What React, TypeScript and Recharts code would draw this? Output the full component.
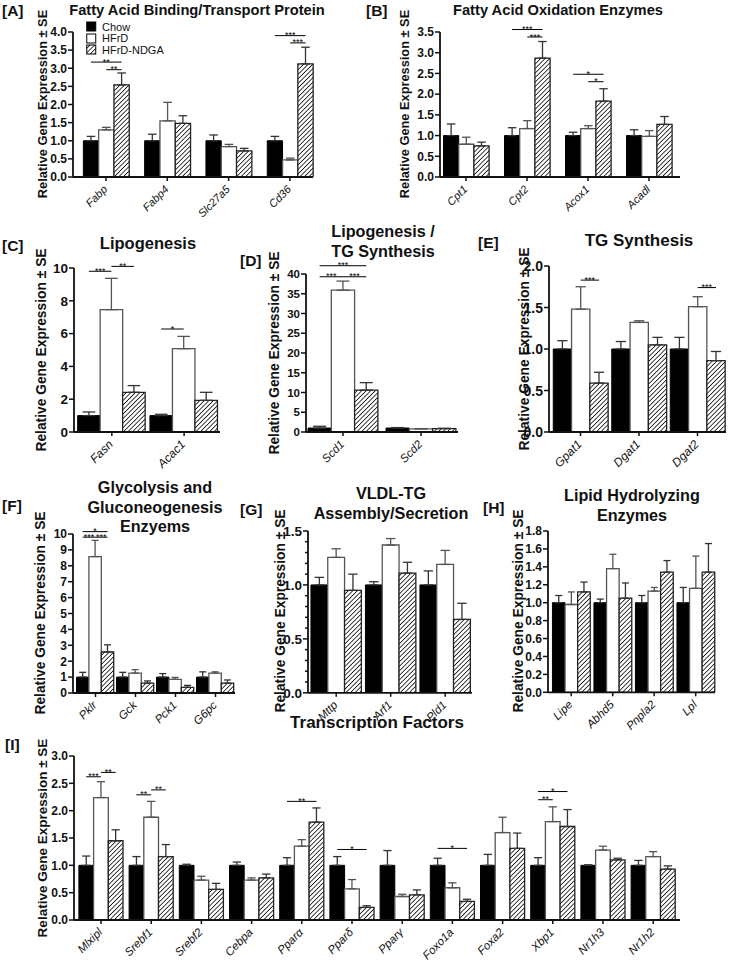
import React from "react";
import { Bar, BarChart, ErrorBar, LabelList, Legend, XAxis, YAxis } from "recharts";

const FONT = "'Liberation Sans', Arial, Helvetica, sans-serif";

// [A] Fatty acid binding / transport protein
const genesA = ["Fabp", "Fabp4", "Slc27a5", "Cd36"];
const chowA = [1, 1, 1, 1];
const chowErrA = [0.12, 0.18, 0.16, 0.12];
const hfrdA = [1.3, 1.55, 0.84, 0.47];
const hfrdErrA = [0.07, 0.51, 0.06, 0.05];
const ndgaA = [2.54, 1.48, 0.72, 3.12];
const ndgaErrA = [0.33, 0.21, 0.07, 0.46];
const ticksA = [0, 0.5, 1, 1.5, 2, 2.5, 3, 3.5, 4];
const sigA = [
  { gene: "Fabp", from: 0, to: 2, y: 3.17, mark: "**" },
  { gene: "Fabp", from: 1, to: 2, y: 2.96, mark: "**" },
  { gene: "Cd36", from: 0, to: 2, y: 3.9, mark: "***" },
  { gene: "Cd36", from: 1, to: 2, y: 3.7, mark: "***" },
];

// [B] Fatty acid oxidation enzymes
const genesB = ["Cpt1", "Cpt2", "Acox1", "Acadl"];
const chowB = [1, 1, 1, 1];
const chowErrB = [0.28, 0.19, 0.08, 0.14];
const hfrdB = [0.79, 1.17, 1.17, 0.98];
const hfrdErrB = [0.17, 0.19, 0.07, 0.14];
const ndgaB = [0.75, 2.87, 1.83, 1.27];
const ndgaErrB = [0.09, 0.4, 0.3, 0.19];
const ticksB = [0, 0.5, 1, 1.5, 2, 2.5, 3, 3.5];
const sigB = [
  { gene: "Cpt2", from: 0, to: 2, y: 3.56, mark: "***" },
  { gene: "Cpt2", from: 1, to: 2, y: 3.38, mark: "***" },
  { gene: "Acox1", from: 0, to: 2, y: 2.48, mark: "*" },
  { gene: "Acox1", from: 1, to: 2, y: 2.3, mark: "*" },
];

// [C] Lipogenesis
const genesC = ["Fasn", "Acac1"];
const chowC = [1, 1];
const chowErrC = [0.22, 0.08];
const hfrdC = [7.46, 5.08];
const hfrdErrC = [1.91, 0.75];
const ndgaC = [2.42, 1.93];
const ndgaErrC = [0.41, 0.49];
const ticksC = [0, 2, 4, 6, 8, 10];
const sigC = [
  { gene: "Fasn", from: 0, to: 1, y: 9.8, mark: "***" },
  { gene: "Fasn", from: 1, to: 2, y: 10.1, mark: "**" },
  { gene: "Acac1", from: 0, to: 1, y: 6.28, mark: "*" },
];

// [D] Lipogenesis / TG synthesis
const genesD = ["Scd1", "Scd2"];
const chowD = [1, 1];
const chowErrD = [0.45, 0.12];
const hfrdD = [35.9, 0.8];
const hfrdErrD = [2.3, 0.06];
const ndgaD = [10.6, 0.85];
const ndgaErrD = [1.9, 0.1];
const ticksD = [0, 5, 10, 15, 20, 25, 30, 35, 40];
const sigD = [
  { gene: "Scd1", from: 0, to: 2, y: 42.1, mark: "***" },
  { gene: "Scd1", from: 0, to: 1, y: 39.3, mark: "***" },
  { gene: "Scd1", from: 1, to: 2, y: 39.3, mark: "***" },
];

// [E] TG synthesis
const genesE = ["Gpat1", "Dgat1", "Dgat2"];
const chowE = [1, 1, 1];
const chowErrE = [0.1, 0.09, 0.14];
const hfrdE = [1.48, 1.32, 1.51];
const hfrdErrE = [0.27, 0.02, 0.12];
const ndgaE = [0.59, 1.05, 0.86];
const ndgaErrE = [0.13, 0.09, 0.11];
const ticksE = [0, 0.5, 1, 1.5, 2];
const sigE = [
  { gene: "Gpat1", from: 1, to: 2, y: 1.83, mark: "***" },
  { gene: "Dgat2", from: 1, to: 2, y: 1.74, mark: "***" },
];

// [F] Glycolysis and gluconeogenesis enzymes
const genesF = ["Pklr", "Gck", "Pck1", "G6pc"];
const chowF = [1, 1, 1, 1];
const chowErrF = [0.3, 0.3, 0.22, 0.33];
const hfrdF = [8.58, 1.25, 0.86, 1.25];
const hfrdErrF = [1.02, 0.22, 0.12, 0.08];
const ndgaF = [2.58, 0.62, 0.36, 0.62];
const ndgaErrF = [0.45, 0.14, 0.12, 0.2];
const ticksF = [0, 1, 2, 3, 4, 5, 6, 7, 8, 9, 10];
const sigF = [
  { gene: "Pklr", from: 0, to: 2, y: 10.15, mark: "*" },
  { gene: "Pklr", from: 0, to: 1, y: 9.8, mark: "***" },
  { gene: "Pklr", from: 1, to: 2, y: 9.8, mark: "***" },
];

// [G] VLDL-TG assembly / secretion
const genesG = ["Mttp", "Arf1", "Pld1"];
const chowG = [1, 1, 1];
const chowErrG = [0.07, 0.03, 0.13];
const hfrdG = [1.255, 1.37, 1.19];
const hfrdErrG = [0.08, 0.06, 0.13];
const ndgaG = [0.95, 1.11, 0.68];
const ndgaErrG = [0.15, 0.1, 0.15];
const ticksG = [0, 0.1, 0.2, 0.3, 0.4, 0.5, 0.6, 0.7, 0.8, 0.9, 1, 1.1, 1.2, 1.3, 1.4, 1.5];
const labelsG = [0, 0.5, 1, 1.5];

// [H] Lipid hydrolyzing enzymes
const genesH = ["Lipe", "Abhd5", "Pnpla2", "Lpl"];
const chowH = [1, 1, 1, 1];
const chowErrH = [0.08, 0.04, 0.08, 0.17];
const hfrdH = [0.98, 1.38, 1.13, 1.16];
const hfrdErrH = [0.14, 0.16, 0.04, 0.36];
const ndgaH = [1.12, 1.05, 1.34, 1.34];
const ndgaErrH = [0.11, 0.17, 0.13, 0.32];
const ticksH = [0, 0.2, 0.4, 0.6, 0.8, 1, 1.2, 1.4, 1.6, 1.8];

// [I] Transcription factors
const genesI = ["Mlxipl", "Srebf1", "Srebf2", "Cebpa", "Pparα", "Pparδ", "Pparγ", "Foxo1a", "Foxa2", "Xbp1", "Nr1h3", "Nr1h2"];
const chowI = [1, 1, 1, 1, 1, 1, 1, 1, 1, 1, 1, 1];
const chowErrI = [0.17, 0.16, 0.02, 0.06, 0.14, 0.16, 0.27, 0.13, 0.2, 0.14, 0.01, 0.09];
const hfrdI = [2.24, 1.88, 0.73, 0.73, 1.35, 0.57, 0.43, 0.59, 1.6, 1.8, 1.28, 1.16];
const hfrdErrI = [0.29, 0.29, 0.07, 0.04, 0.12, 0.17, 0.04, 0.09, 0.28, 0.27, 0.07, 0.09];
const ndgaI = [1.45, 1.16, 0.56, 0.77, 1.79, 0.23, 0.46, 0.34, 1.31, 1.71, 1.1, 0.93];
const ndgaErrI = [0.2, 0.22, 0.11, 0.07, 0.26, 0.03, 0.09, 0.04, 0.28, 0.31, 0.03, 0.06];
const ticksI = [0, 0.5, 1, 1.5, 2, 2.5, 3];
const sigI = [
  { gene: "Mlxipl", from: 0, to: 1, y: 2.62, mark: "***" },
  { gene: "Mlxipl", from: 1, to: 2, y: 2.7, mark: "**" },
  { gene: "Srebf1", from: 0, to: 1, y: 2.29, mark: "**" },
  { gene: "Srebf1", from: 1, to: 2, y: 2.38, mark: "**" },
  { gene: "Pparα", from: 0, to: 2, y: 2.17, mark: "**" },
  { gene: "Pparδ", from: 0, to: 2, y: 1.29, mark: "*" },
  { gene: "Foxo1a", from: 0, to: 2, y: 1.31, mark: "*" },
  { gene: "Xbp1", from: 0, to: 1, y: 2.2, mark: "**" },
  { gene: "Xbp1", from: 0, to: 2, y: 2.35, mark: "*" },
];

type Sig = { gene: string; from: number; to: number; y: number; mark: string };
type Geo = { axisX: number; axisEnd: number; yTop: number; yZero: number; firstCenter: number; spacing: number; barW: number };

function XTick({ x, y, payload, font }: any) {
  const ax = x + 2;
  const ay = y + 7;
  return (
    <text x={ax} y={ay} transform={`rotate(-45 ${ax} ${ay})`} textAnchor="end" fontStyle="italic" fontSize={font} fontFamily={FONT} fill="#111">
      {payload.value}
    </text>
  );
}

function YTick({ x, y, payload, labels, digits, font }: any) {
  const v = Number(payload.value);
  const major = labels ? labels.some((l: number) => Math.abs(l - v) < 1e-6) : true;
  return (
    <g>
      <line x1={x + (major ? 2 : 4)} x2={x + 7} y1={y} y2={y} stroke="#111" strokeWidth={1.5} />
      {major && (
        <text x={x + 1} y={y} dy="0.36em" textAnchor="end" fontWeight="bold" fontSize={font} fontFamily={FONT} fill="#111">
          {v.toFixed(digits)}
        </text>
      )}
    </g>
  );
}

function sigContent(sig: Sig[], genes: string[]) {
  return (props: any) => {
    const vb = props.viewBox ?? props;
    const x = Number(vb.x ?? props.x);
    const y = Number(vb.y ?? props.y);
    const w = Number(vb.width ?? props.width);
    const h = Number(vb.height ?? props.height);
    const v = Number(props.value);
    const gene = props.index !== undefined ? genes[props.index] : props.payload?.gene;
    const marks = sig.filter((s) => s.gene === gene);
    if (!marks.length || !v || !h) return null;
    const base = y + h;
    const k = h / v;
    return (
      <g>
        {marks.map((s, i) => {
          const yy = base - s.y * k;
          const x1 = x + w * (s.from + 0.5);
          const x2 = x + w * (s.to + 0.5);
          return (
            <g key={i}>
              <line x1={x1} x2={x2} y1={yy} y2={yy} stroke="#000" strokeWidth={1} />
              <text x={(x1 + x2) / 2} y={yy + 2.6} textAnchor="middle" fontSize={9} fontFamily={FONT} fill="#000">
                {s.mark}
              </text>
            </g>
          );
        })}
      </g>
    );
  };
}

function LegendBox({ payload }: any) {
  return (
    <div style={{ fontFamily: FONT, fontSize: 11, color: "#111" }}>
      {(payload ?? []).map((p: any) => (
        <div key={p.value} style={{ display: "flex", alignItems: "center", height: 11.6 }}>
          <svg width={11} height={11} style={{ marginRight: 5 }}>
            <rect x={0.75} y={1} width={9} height={9} fill={p.color} stroke="#000" strokeWidth={1} />
          </svg>
          <span>{p.value}</span>
        </div>
      ))}
    </div>
  );
}

type PanelProps = {
  id: string;
  genes: string[];
  chow: number[];
  chowErr: number[];
  hfrd: number[];
  hfrdErr: number[];
  ndga: number[];
  ndgaErr: number[];
  ticks: number[];
  labels?: number[];
  digits: number;
  sig: Sig[];
  geo: Geo;
  tickFont: number;
  xFont: number;
  legend?: boolean;
};

function Panel({ id, genes, chow, chowErr, hfrd, hfrdErr, ndga, ndgaErr, ticks, labels, digits, sig, geo, tickFont, xFont, legend }: PanelProps) {
  const rows = genes.map((gene, i) => ({
    gene,
    chow: chow[i],
    hfrd: hfrd[i],
    ndga: ndga[i],
    chowSe: [0, chowErr[i]],
    hfrdSe: [0, hfrdErr[i]],
    ndgaSe: [0, ndgaErr[i]],
  }));
  const top = 24;
  const axisW = 44;
  const xH = 48;
  const left = geo.axisX - axisW;
  const width = geo.axisEnd - left + 10;
  const height = top + geo.yZero - geo.yTop + xH;
  const n = genes.length;
  const rangeStart = geo.firstCenter - geo.spacing / 2;
  const rangeEnd = geo.firstCenter + (n - 0.5) * geo.spacing;
  const pad = { left: rangeStart - geo.axisX, right: geo.axisEnd - rangeEnd };
  const hatch = `hatch-${id}`;
  // ErrorBar width is the half-length of the cap
  const cap = geo.barW * 0.28;
  const axisStyle = { stroke: "#111", strokeWidth: 1.8 };
  return (
    <div style={{ position: "absolute", left, top: geo.yTop - top }}>
      <BarChart width={width} height={height} data={rows} margin={{ top, right: 10, bottom: 0, left: 0 }} barGap={0} barSize={geo.barW}>
        <defs>
          <pattern id={hatch} patternUnits="userSpaceOnUse" width={3.2} height={3.2} patternTransform="rotate(45)">
            <rect width={3.2} height={3.2} fill="#fff" />
            <line x1={0} y1={0} x2={0} y2={3.2} stroke="#000" strokeWidth={1.5} />
          </pattern>
        </defs>
        <XAxis
          dataKey="gene"
          interval={0}
          height={xH}
          padding={pad}
          axisLine={axisStyle}
          tickLine={{ stroke: "#111", strokeWidth: 1.5 }}
          tickSize={4}
          tick={<XTick font={xFont} />}
        />
        <YAxis
          type="number"
          domain={[0, ticks[ticks.length - 1]]}
          ticks={ticks}
          interval={0}
          width={axisW}
          allowDataOverflow
          axisLine={axisStyle}
          tickLine={false}
          tickSize={5}
          tickMargin={2}
          tick={<YTick labels={labels} digits={digits} font={tickFont} />}
        />
        <Bar dataKey="chow" name="Chow" fill="#000" stroke="#000" strokeWidth={1} isAnimationActive={false}>
          <ErrorBar dataKey="chowSe" width={cap} stroke="#333" strokeWidth={1.3} direction="y" />
          <LabelList dataKey="chow" content={sigContent(sig, genes)} />
        </Bar>
        <Bar dataKey="hfrd" name="HFrD" fill="#fff" stroke="#555" strokeWidth={1.3} isAnimationActive={false}>
          <ErrorBar dataKey="hfrdSe" width={cap} stroke="#555" strokeWidth={1.3} direction="y" />
        </Bar>
        <Bar dataKey="ndga" name="HFrD-NDGA" fill={`url(#${hatch})`} stroke="#222" strokeWidth={1.3} isAnimationActive={false}>
          <ErrorBar dataKey="ndgaSe" width={cap} stroke="#333" strokeWidth={1.3} direction="y" />
        </Bar>
        {legend && (
          <Legend
            layout="vertical"
            align="center"
            verticalAlign="middle"
            wrapperStyle={{ left: 86 - left, top: 21 - (geo.yTop - top), width: "auto" }}
            content={<LegendBox />}
          />
        )}
      </BarChart>
    </div>
  );
}

function Letter({ x, y, children }: any) {
  return (
    <div style={{ position: "absolute", left: x, top: y, transform: "translateY(-50%)", fontWeight: "bold", fontSize: 15.5, whiteSpace: "nowrap" }}>
      {children}
    </div>
  );
}

function Title({ x, y, size, lines }: { x: number; y: number; size: number; lines: string[] }) {
  return (
    <div
      style={{
        position: "absolute",
        left: x,
        top: y,
        transform: "translate(-50%, -50%)",
        fontWeight: "bold",
        fontSize: size,
        lineHeight: "19.5px",
        textAlign: "center",
        whiteSpace: "nowrap",
      }}
    >
      {lines.map((l) => (
        <div key={l}>{l}</div>
      ))}
    </div>
  );
}

function YLabel({ x, y, size }: { x: number; y: number; size: number }) {
  return (
    <div
      style={{
        position: "absolute",
        left: x,
        top: y,
        transform: "translate(-50%, -50%) rotate(-90deg)",
        fontWeight: "bold",
        fontSize: size,
        whiteSpace: "nowrap",
      }}
    >
      Relative Gene Expression ± SE
    </div>
  );
}

export default function App() {
  return (
    <div style={{ position: "absolute", left: 0, top: 0, width: 729, height: 960, overflow: "hidden", background: "#fff", fontFamily: FONT, color: "#111" }}>
      <Letter x={2} y={11}>[A]</Letter>
      <Title x={197} y={11} size={14.7} lines={["Fatty Acid Binding/Transport Protein"]} />
      <YLabel x={42} y={104} size={12.8} />
      <Panel
        id="A" genes={genesA} chow={chowA} chowErr={chowErrA} hfrd={hfrdA} hfrdErr={hfrdErrA} ndga={ndgaA} ndgaErr={ndgaErrA}
        ticks={ticksA} digits={1} sig={sigA} tickFont={12} xFont={11} legend
        geo={{ axisX: 73, axisEnd: 313, yTop: 32, yZero: 177, firstCenter: 106, spacing: 61.3, barW: 15.3 }}
      />

      <Letter x={366} y={11}>[B]</Letter>
      <Title x={558} y={11} size={14.7} lines={["Fatty Acid Oxidation Enzymes"]} />
      <YLabel x={404} y={104} size={12.8} />
      <Panel
        id="B" genes={genesB} chow={chowB} chowErr={chowErrB} hfrd={hfrdB} hfrdErr={hfrdErrB} ndga={ndgaB} ndgaErr={ndgaErrB}
        ticks={ticksB} digits={1} sig={sigB} tickFont={12} xFont={11}
        geo={{ axisX: 440, axisEnd: 680, yTop: 32, yZero: 177, firstCenter: 466, spacing: 61, barW: 15.2 }}
      />

      <Letter x={2} y={246}>[C]</Letter>
      <Title x={148} y={244} size={16.5} lines={["Lipogenesis"]} />
      <YLabel x={41} y={350} size={13.8} />
      <Panel
        id="C" genes={genesC} chow={chowC} chowErr={chowErrC} hfrd={hfrdC} hfrdErr={hfrdErrC} ndga={ndgaC} ndgaErr={ndgaErrC}
        ticks={ticksC} digits={0} sig={sigC} tickFont={13.5} xFont={12}
        geo={{ axisX: 74, axisEnd: 220, yTop: 268, yZero: 432, firstCenter: 111.8, spacing: 72.3, barW: 22.5 }}
      />

      <Letter x={240} y={261}>[D]</Letter>
      <Title x={383} y={241} size={16.2} lines={["Lipogenesis /", "TG Synthesis"]} />
      <YLabel x={274} y={353} size={13.8} />
      <Panel
        id="D" genes={genesD} chow={chowD} chowErr={chowErrD} hfrd={hfrdD} hfrdErr={hfrdErrD} ndga={ndgaD} ndgaErr={ndgaErrD}
        ticks={ticksD} digits={0} sig={sigD} tickFont={11.5} xFont={11.5}
        geo={{ axisX: 306, axisEnd: 458, yTop: 274, yZero: 432, firstCenter: 343, spacing: 78, barW: 23.3 }}
      />

      <Letter x={478} y={243}>[E]</Letter>
      <Title x={639} y={241} size={17} lines={["TG Synthesis"]} />
      <YLabel x={524} y={349} size={13.8} />
      <Panel
        id="E" genes={genesE} chow={chowE} chowErr={chowErrE} hfrd={hfrdE} hfrdErr={hfrdErrE} ndga={ndgaE} ndgaErr={ndgaErrE}
        ticks={ticksE} digits={1} sig={sigE} tickFont={14} xFont={12}
        geo={{ axisX: 549, axisEnd: 726, yTop: 266, yZero: 432, firstCenter: 580.5, spacing: 58.5, barW: 18.3 }}
      />

      <Letter x={2} y={506}>[F]</Letter>
      <Title x={155} y={507} size={16.2} lines={["Glycolysis and", "Gluconeogenesis", "Enzyems"]} />
      <YLabel x={40} y={613} size={13.8} />
      <Panel
        id="F" genes={genesF} chow={chowF} chowErr={chowErrF} hfrd={hfrdF} hfrdErr={hfrdErrF} ndga={ndgaF} ndgaErr={ndgaErrF}
        ticks={ticksF} digits={0} sig={sigF} tickFont={12} xFont={11.5}
        geo={{ axisX: 73, axisEnd: 235, yTop: 533.5, yZero: 692.5, firstCenter: 95.5, spacing: 40, barW: 12.4 }}
      />

      <Letter x={240} y={510}>[G]</Letter>
      <Title x={391} y={503} size={16.2} lines={["VLDL-TG", "Assembly/Secretion"]} />
      <YLabel x={280} y={611} size={13.8} />
      <Panel
        id="G" genes={genesG} chow={chowG} chowErr={chowErrG} hfrd={hfrdG} hfrdErr={hfrdErrG} ndga={ndgaG} ndgaErr={ndgaErrG}
        ticks={ticksG} labels={labelsG} digits={1} sig={[]} tickFont={13.5} xFont={11.5}
        geo={{ axisX: 308, axisEnd: 472, yTop: 530.5, yZero: 692.3, firstCenter: 336.2, spacing: 54.5, barW: 16.8 }}
      />

      <Letter x={483} y={508}>[H]</Letter>
      <Title x={632} y={505} size={16.2} lines={["Lipid Hydrolyzing", "Enzymes"]} />
      <YLabel x={518} y={611} size={13.8} />
      <Panel
        id="H" genes={genesH} chow={chowH} chowErr={chowErrH} hfrd={hfrdH} hfrdErr={hfrdErrH} ndga={ndgaH} ndgaErr={ndgaErrH}
        ticks={ticksH} digits={1} sig={[]} tickFont={12} xFont={11.5}
        geo={{ axisX: 548, axisEnd: 715, yTop: 531, yZero: 692.3, firstCenter: 571.2, spacing: 41.5, barW: 12.6 }}
      />

      <Letter x={5} y={745}>[I]</Letter>
      <Title x={377} y={723} size={17} lines={["Transcription Factors"]} />
      <YLabel x={42} y={838} size={13.5} />
      <Panel
        id="I" genes={genesI} chow={chowI} chowErr={chowErrI} hfrd={hfrdI} hfrdErr={hfrdErrI} ndga={ndgaI} ndgaErr={ndgaErrI}
        ticks={ticksI} digits={1} sig={sigI} tickFont={12} xFont={11.5}
        geo={{ axisX: 74, axisEnd: 680, yTop: 755.5, yZero: 919.5, firstCenter: 101, spacing: 50.2, barW: 14.7 }}
      />
    </div>
  );
}
